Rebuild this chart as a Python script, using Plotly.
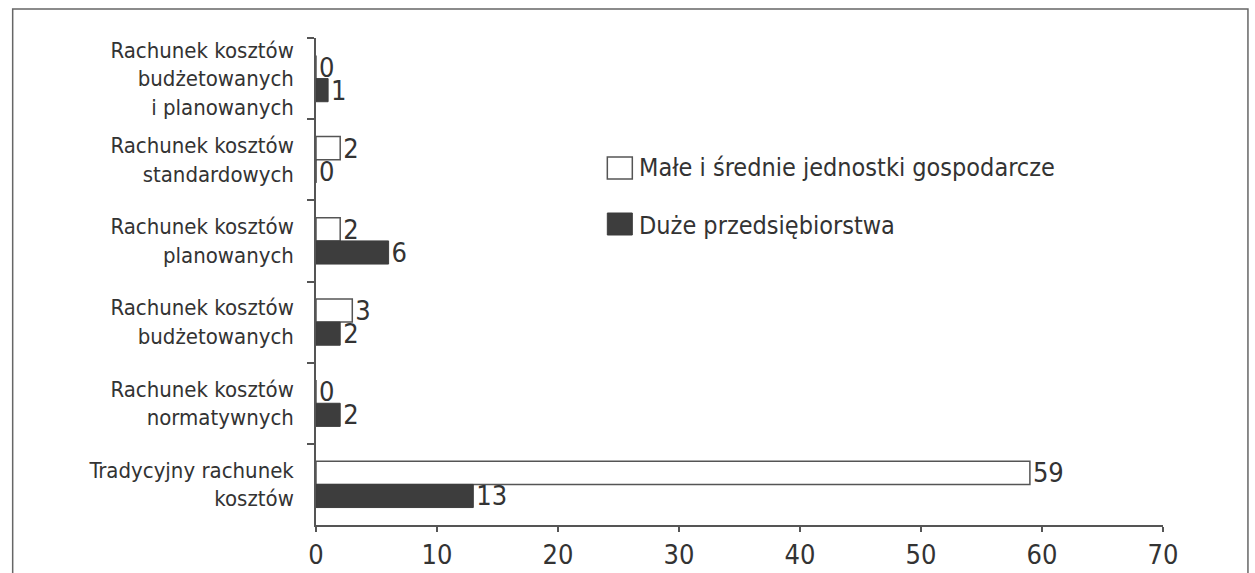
import plotly.graph_objects as go

# Cost accounting methods (top to bottom) and counts per group of enterprises
categories = [
    "Rachunek kosztów<br>budżetowanych<br>i planowanych",
    "Rachunek kosztów<br>standardowych",
    "Rachunek kosztów<br>planowanych",
    "Rachunek kosztów<br>budżetowanych",
    "Rachunek kosztów<br>normatywnych",
    "Tradycyjny rachunek<br>kosztów",
]
small_medium = [0, 2, 2, 3, 0, 59]
large = [1, 0, 6, 2, 2, 13]
series_names = ["Małe i średnie jednostki gospodarcze", "Duże przedsiębiorstwa"]
x_ticks = [0, 10, 20, 30, 40, 50, 60, 70]

FONT = "Liberation Sans Narrow, Arial Narrow, DejaVu Sans Condensed, sans-serif"
INK = "#333333"
LINE = "#555555"
DARK = "#3d3d3d"

W, H = 1255, 573
L, R, T, B = 315.5, 1163, 38, 525  # plot area edges in px


def px_x(p):
    return (p - L) / (R - L)


def px_y(p):
    return (B - p) / (B - T)


fig = go.Figure()
fig.add_trace(go.Bar(
    y=categories, x=small_medium, orientation="h", name=series_names[0],
    marker=dict(color="white", line=dict(color=LINE, width=1.5)),
    text=[str(v) for v in small_medium], textposition="outside",
    textfont=dict(family=FONT, size=27, color=INK),
    constraintext="none", cliponaxis=False, showlegend=False,
))
fig.add_trace(go.Bar(
    y=categories, x=large, orientation="h", name=series_names[1],
    marker=dict(color=DARK, line=dict(color=DARK, width=1)),
    text=[str(v) for v in large], textposition="outside",
    textfont=dict(family=FONT, size=27, color=INK),
    constraintext="none", cliponaxis=False, showlegend=False,
))

shapes = [
    # outer frame
    dict(type="rect", xref="paper", yref="paper",
         x0=px_x(12), x1=px_x(1248), y0=px_y(590), y1=px_y(9),
         line=dict(color="#666666", width=1.5), fillcolor="rgba(0,0,0,0)"),
    # legend swatches
    dict(type="rect", xref="paper", yref="paper",
         x0=px_x(607), x1=px_x(632), y0=px_y(179), y1=px_y(157),
         line=dict(color=LINE, width=1.5), fillcolor="white"),
    dict(type="rect", xref="paper", yref="paper",
         x0=px_x(607), x1=px_x(632), y0=px_y(235), y1=px_y(213),
         line=dict(color=DARK, width=1), fillcolor=DARK),
]
annotations = [
    dict(xref="paper", yref="paper", x=px_x(637), y=px_y(168),
         text=series_names[0], showarrow=False, xanchor="left", yanchor="middle",
         font=dict(family=FONT, size=25, color=INK)),
    dict(xref="paper", yref="paper", x=px_x(637), y=px_y(225),
         text=series_names[1], showarrow=False, xanchor="left", yanchor="middle",
         font=dict(family=FONT, size=25, color=INK)),
]

fig.update_layout(
    width=W, height=H,
    margin=dict(l=L, r=W - R, t=T, b=H - B, pad=0, autoexpand=False),
    paper_bgcolor="white", plot_bgcolor="white",
    barmode="group", bargap=0.43, bargroupgap=0,
    shapes=shapes, annotations=annotations,
    font=dict(family=FONT, color=INK),
    xaxis=dict(
        range=[0, 70], tickvals=x_ticks, ticktext=[str(v) for v in x_ticks],
        showgrid=False, zeroline=False, showline=True, linecolor=LINE, linewidth=1.5,
        ticks="outside", ticklen=5, tickcolor=LINE, tickwidth=1.5, automargin=False,
        tickfont=dict(family=FONT, size=27, color=INK), ticklabelstandoff=0,
    ),
    yaxis=dict(
        type="category", autorange="reversed", range=[5.5, -0.5],
        showgrid=False, zeroline=False, showline=True, linecolor=LINE, linewidth=1.5,
        ticks="outside", tickson="boundaries", ticklen=7, tickcolor=LINE, tickwidth=1.5,
        automargin=False,
        tickfont=dict(family=FONT, size=22, color=INK), ticklabelstandoff=16,
    ),
)

fig.write_html("out.html")
